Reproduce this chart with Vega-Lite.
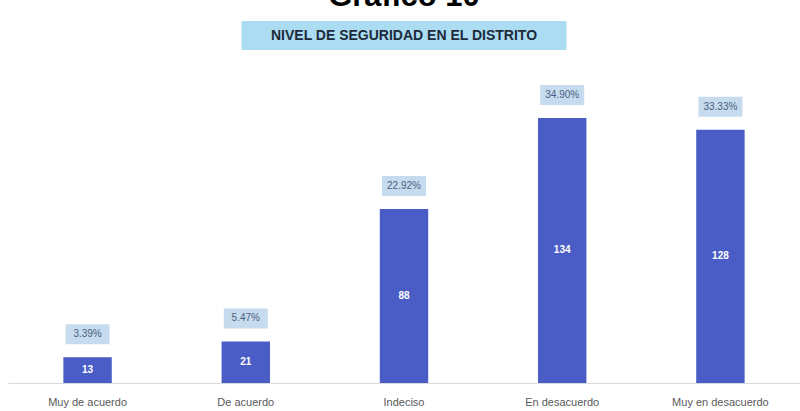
{
  "$schema": "https://vega.github.io/schema/vega-lite/v6.json",
  "width": 792,
  "height": 373,
  "autosize": {"type": "none"},
  "padding": {"left": 8, "top": 10, "right": 0, "bottom": 28},
  "background": "white",
  "config": {"view": {"stroke": null}},
  "data": {"values": [
    {"categoria": "Muy de acuerdo", "cantidad": 13, "porcentaje": 0.0339},
    {"categoria": "De acuerdo", "cantidad": 21, "porcentaje": 0.0547},
    {"categoria": "Indeciso", "cantidad": 88, "porcentaje": 0.2292},
    {"categoria": "En desacuerdo", "cantidad": 134, "porcentaje": 0.3490},
    {"categoria": "Muy en desacuerdo", "cantidad": 128, "porcentaje": 0.3333}
  ]},
  "encoding": {
    "x": {"field": "categoria", "type": "nominal", "sort": null,
      "scale": {"paddingInner": 0.694, "paddingOuter": 0.35},
      "axis": {"title": null, "labelAngle": 0, "ticks": false, "domainColor": "#d9d9d9", "domainWidth": 1, "labelFont": "Liberation Sans", "labelFontSize": 11, "labelColor": "#595959", "labelPadding": 13}}
  },
  "layer": [
    {
      "mark": {"type": "bar", "color": "#4a5cc5"},
      "encoding": {
        "y": {"field": "cantidad", "type": "quantitative", "scale": {"domain": [0, 188.6], "nice": false}, "axis": null}
      }
    },
    {
      "mark": {"type": "text", "color": "white", "font": "Liberation Sans", "fontSize": 10, "fontWeight": "bold", "baseline": "middle"},
      "encoding": {
        "y": {"field": "cantidad", "type": "quantitative", "scale": {"domain": [0, 377.2], "nice": false}, "axis": null},
        "text": {"field": "cantidad", "type": "quantitative"}
      }
    },
    {
      "mark": {"type": "point", "shape": "M-1,-0.4545 L1,-0.4545 L1,0.4545 L-1,0.4545 Z", "filled": true, "opacity": 1, "color": "#c6dbee", "size": 1936, "yOffset": -23},
      "encoding": {
        "y": {"field": "cantidad", "type": "quantitative", "scale": {"domain": [0, 188.6], "nice": false}, "axis": null}
      }
    },
    {
      "mark": {"type": "text", "color": "#4a5f80", "font": "Liberation Sans", "fontSize": 10, "baseline": "middle", "yOffset": -23},
      "encoding": {
        "y": {"field": "cantidad", "type": "quantitative", "scale": {"domain": [0, 188.6], "nice": false}, "axis": null},
        "text": {"field": "porcentaje", "type": "quantitative", "format": ".2%"}
      }
    },
    {
      "data": {"values": [{}]},
      "mark": {"type": "bar", "color": "#acdcf2", "width": 325},
      "encoding": {
        "x": {"datum": "Indeciso"},
        "y": {"datum": 168.4, "scale": {"domain": [0, 188.6], "nice": false}, "axis": null},
        "y2": {"datum": 183.0}
      }
    },
    {
      "data": {"values": [{}]},
      "mark": {"type": "text", "color": "#1c2a3a", "font": "Liberation Sans", "fontSize": 14, "fontWeight": "bold", "baseline": "middle"},
      "encoding": {
        "x": {"datum": "Indeciso"},
        "y": {"datum": 175.7, "scale": {"domain": [0, 188.6], "nice": false}, "axis": null},
        "text": {"value": "NIVEL DE SEGURIDAD EN EL DISTRITO"}
      }
    },
    {
      "data": {"values": [{}]},
      "mark": {"type": "text", "color": "#000000", "font": "Liberation Sans", "fontSize": 31, "fontWeight": "bold", "baseline": "alphabetic"},
      "encoding": {
        "x": {"datum": "Indeciso"},
        "y": {"datum": 190.6, "scale": {"domain": [0, 188.6], "nice": false}, "axis": null},
        "text": {"value": "Gráfico 10"}
      }
    }
  ],
  "resolve": {"scale": {"y": "independent"}}
}
